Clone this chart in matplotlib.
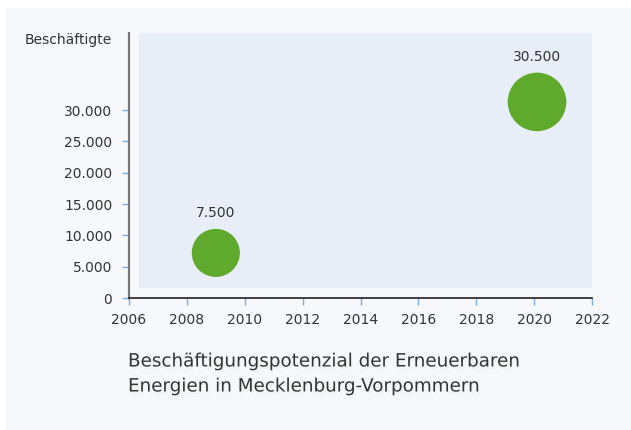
import matplotlib.pyplot as plt
import matplotlib.patheffects as pe
from matplotlib.patches import Rectangle
from matplotlib.ticker import FuncFormatter

# Daten
years = [2009, 2020.1]
jobs = [7200, 31300]
bubble_labels = ["7.500", "30.500"]
bubble_sizes = [1200, 1780]

x_ticks = list(range(2006, 2023, 2))
y_ticks = [0, 5000, 10000, 15000, 20000, 25000, 30000]

TEXT_COLOR = "#333333"
TICK_COLOR = "#7aaee0"
GREEN = "#5faa2c"

plt.rcParams['font.family'] = ['DejaVu Sans']

fig = plt.figure(figsize=(6.31, 4.30), dpi=100, facecolor="white")
W, H = 631, 430

# heller Hintergrund-Kasten
fig.patches.append(Rectangle((6 / W, 0), 1 - 6 / W, 1 - 8 / H,
                             transform=fig.transFigure, facecolor="#f7f8fc",
                             edgecolor="none", zorder=-10))

ax = fig.add_axes([129 / W, 1 - 298 / H, (592 - 129) / W, (298 - 33) / H])
ax.set_facecolor("none")
ax.set_xlim(2006, 2022)
ax.set_ylim(0, 42300)

# hellblaue Plotfläche
ax.add_patch(Rectangle((10 / 463, 10 / 265), 1 - 10 / 463, 1 - 10 / 265,
                       transform=ax.transAxes, facecolor="#e8eef8",
                       edgecolor="none", zorder=0))

ax.scatter(years, jobs, s=bubble_sizes, color=GREEN, edgecolors="none", zorder=3)
for x, y, lab, s in zip(years, jobs, bubble_labels, bubble_sizes):
    r = (s ** 0.5) / 2
    ax.annotate(lab, (x, y), xytext=(0, r + 11.5), textcoords="offset points",
                ha="center", va="center", fontsize=10, color=TEXT_COLOR, zorder=4)

ax.set_xticks(x_ticks)
ax.set_yticks(y_ticks)
ax.yaxis.set_major_formatter(FuncFormatter(lambda v, p: f"{int(v):,}".replace(",", ".")))

for side in ["top", "right"]:
    ax.spines[side].set_visible(False)
ax.spines["left"].set_color("#777777")
ax.spines["left"].set_linewidth(1.6)
ax.spines["left"].set_bounds(0, 42300)
ax.spines["bottom"].set_color("#222222")
ax.spines["bottom"].set_linewidth(1.2)

ax.tick_params(axis="both", colors=TICK_COLOR, length=5, width=1,
               labelcolor=TEXT_COLOR, labelsize=10)
ax.tick_params(axis="y", pad=7)
ax.tick_params(axis="x", pad=6)

fig.text(112 / W, 1 - 40 / H, "Beschäftigte", ha="right", va="center",
         fontsize=10, color=TEXT_COLOR)

title = fig.text(128 / W, 1 - 374 / H,
                 "Beschäftigungspotenzial der Erneuerbaren\nEnergien in Mecklenburg-Vorpommern",
                 ha="left", va="center", fontsize=13.2, color=TEXT_COLOR, linespacing=1.5)
title.set_path_effects([pe.withSimplePatchShadow(offset=(1, -2), shadow_rgbFace="#999999",
                                                 alpha=0.07)])

fig.savefig("out.png", dpi=100, facecolor="white")
